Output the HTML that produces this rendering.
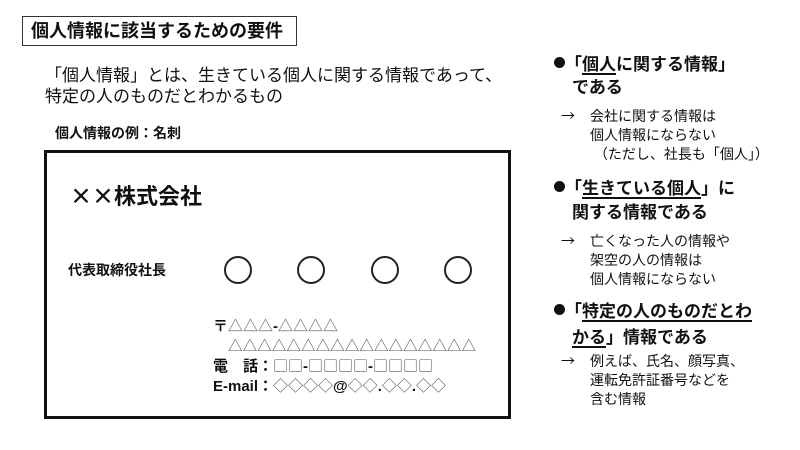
<!DOCTYPE html>
<html><head><meta charset="utf-8"><style>
body{margin:0;width:800px;height:450px;background:#fff;position:relative;overflow:hidden;font-family:"Liberation Sans","Noto Sans CJK JP",sans-serif;color:#111}
.a{position:absolute;white-space:nowrap;line-height:1}
.b{font-weight:bold}
.j{font-family:"Noto Sans CJK JP",sans-serif}
.g{font-family:"Noto Sans CJK JP",sans-serif;font-weight:normal;color:#555}
u{text-decoration-thickness:2px;text-underline-offset:3px}
.c{position:absolute;width:28px;height:28px;border:2px solid #222;border-radius:50%;box-sizing:border-box;top:256px}
.ar{position:absolute;left:561px;font-size:14px;line-height:19px}
.ar .t{position:absolute;left:29px;top:0;white-space:nowrap}
.dot{position:absolute;left:554px;width:11px;height:11px;border-radius:50%;background:#111}
</style></head><body>
<div class="a b" style="left:22px;top:16px;width:275px;height:30px;border:1.5px solid #333;box-sizing:border-box;font-size:18px;padding:5px 0 0 8px">個人情報に該当するための要件</div>
<div class="a" style="left:45px;top:63px;font-size:17px;line-height:21px"><span class="j">「</span>個人情報<span class="j">」</span>とは、生きている個人に関する情報であって、<br>特定の人のものだとわかるもの</div>
<div class="a b" style="left:55px;top:126px;font-size:14px">個人情報の例：名刺</div>
<div class="a" style="left:44px;top:150px;width:467px;height:269px;border:3px solid #111;box-sizing:border-box"></div>
<div class="a b" style="left:70px;top:184px;font-size:22px"><span class="j">××</span>株式会社</div>
<div class="a b" style="left:68px;top:263px;font-size:14px">代表取締役社長</div>
<div class="c" style="left:224px"></div><div class="c" style="left:297px"></div><div class="c" style="left:371px"></div><div class="c" style="left:444px"></div>
<div class="a b" style="left:213px;top:316px;font-size:15px;line-height:19px">〒<span class="g">△△△</span>-<span class="g">△△△△</span><br><span style="display:inline-block;width:15px"></span><span class="g" style="font-size:14.6px">△△△△△△△△△△△△△△△△△</span><br>電　話：<span class="g">□□</span>-<span class="g">□□□□</span>-<span class="g">□□□□</span><br>E-mail：<span class="g">◇◇◇◇</span>@<span class="g">◇◇</span>.<span class="g">◇◇</span>.<span class="g">◇◇</span></div>

<div class="dot" style="top:57px"></div>
<div class="a b" style="left:565px;top:51px;font-size:17px;line-height:23px"><span class="j">「</span><u>個人</u>に関する情報<span class="j">」</span><br><span style="display:inline-block;width:7px"></span>である</div>
<div class="ar" style="top:107px"><span class="j">→</span><div class="t">会社に関する情報は<br>個人情報にならない<br>&nbsp;<span class="j">（</span>ただし、社長も<span class="j">「</span>個人<span class="j">」）</span></div></div>
<div class="dot" style="top:181px"></div>
<div class="a b" style="left:565px;top:175px;font-size:17px;line-height:24px"><span class="j">「</span><u>生きている個人</u><span class="j">」</span>に<br><span style="display:inline-block;width:7px"></span>関する情報である</div>
<div class="ar" style="top:232px"><span class="j">→</span><div class="t">亡くなった人の情報や<br>架空の人の情報は<br>個人情報にならない</div></div>
<div class="dot" style="top:304px"></div>
<div class="a b" style="left:565px;top:298px;font-size:17px;line-height:24px"><span class="j">「</span><u>特定の人のものだとわ</u><br><span style="display:inline-block;width:7px"></span><u>かる</u><span class="j">」</span>情報である</div>
<div class="ar" style="top:352px"><span class="j">→</span><div class="t">例えば、氏名、顔写真、<br>運転免許証番号などを<br>含む情報</div></div>
</body></html>
